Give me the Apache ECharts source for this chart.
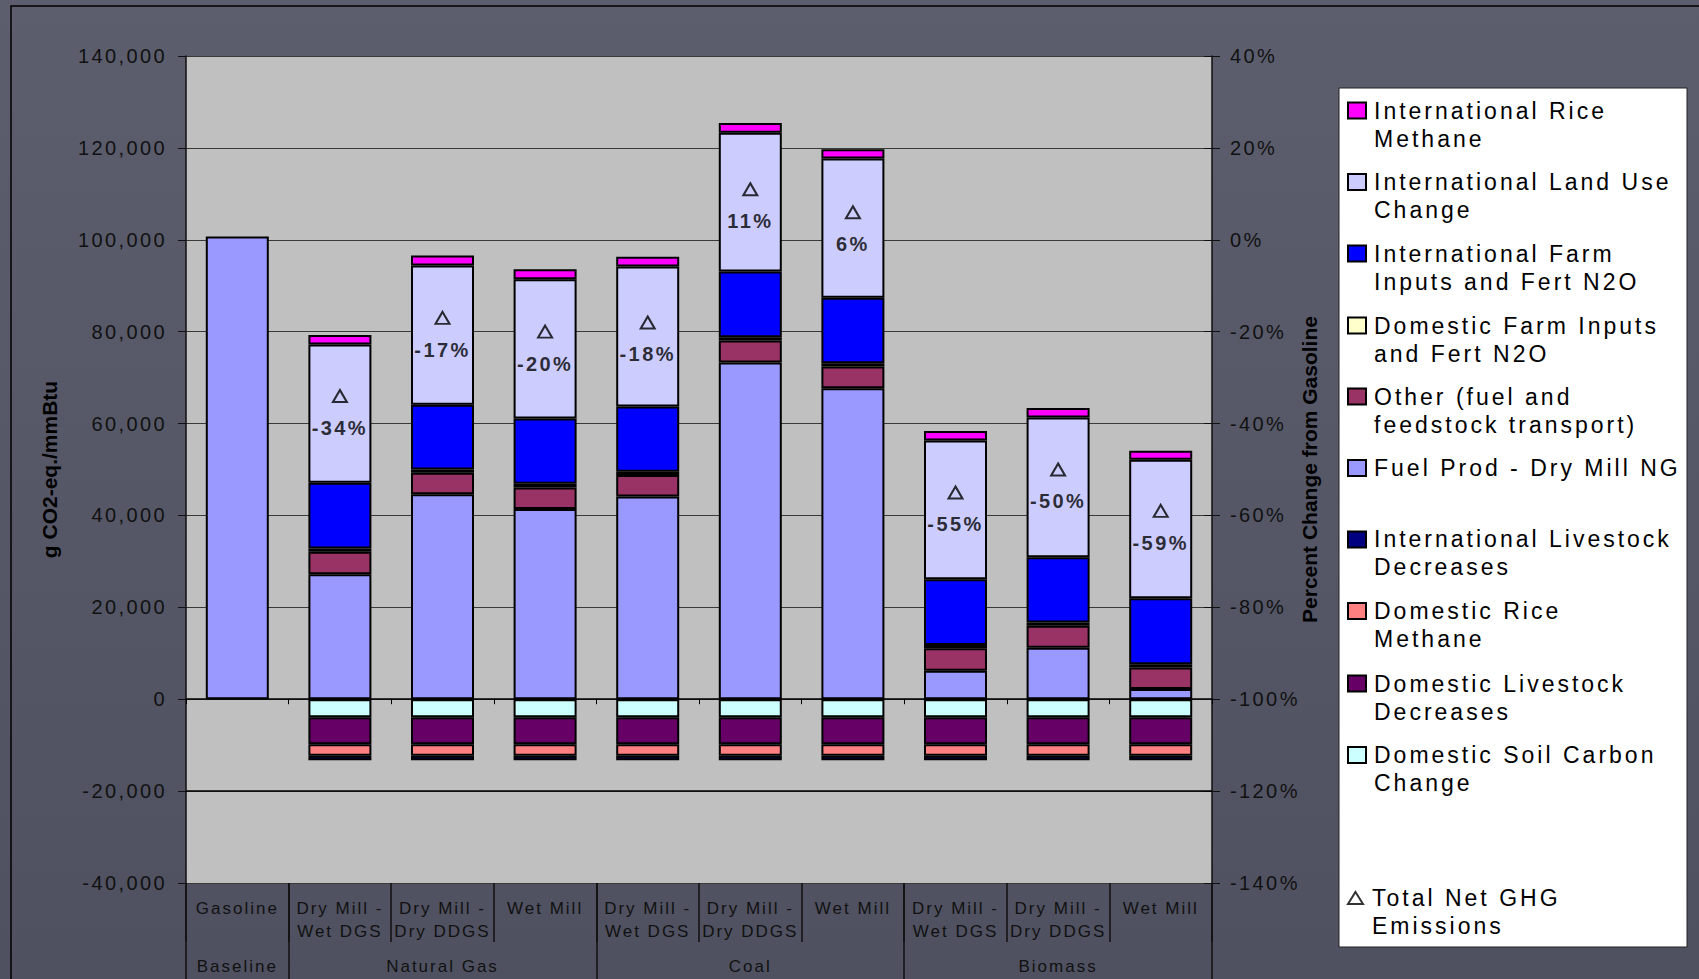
<!DOCTYPE html>
<html><head><meta charset="utf-8">
<script src="https://cdn.jsdelivr.net/npm/echarts@6/dist/echarts.min.js"></script>
<style>
html,body{margin:0;padding:0;background:#565867;}
#chart{width:1699px;height:979px;}
#chart text[style*="23px"]{letter-spacing:3px}
#chart text[style*="20px"]{letter-spacing:2.4px}
#chart text[style*="17px"]{letter-spacing:2px}
</style></head><body><div id="chart"></div>
<script>
// ---- data ----
const categories = ['Gasoline','Dry Mill -\nWet DGS','Dry Mill -\nDry DDGS','Wet Mill','Dry Mill -\nWet DGS','Dry Mill -\nDry DDGS','Wet Mill','Dry Mill -\nWet DGS','Dry Mill -\nDry DDGS','Wet Mill'];
const groupLabels = ['Baseline','','Natural Gas','','','Coal','','','Biomass',''];
const groupStarts = [0,1,4,7];

const fuelProd       = [100700, 27200, 44600, 41400, 44100, 73300, 67700,  6200, 11200,  2200];
const otherTransport = [null,    4900,  4700,  4700,  4700,  4800,  4700,  4900,  4800,  4700];
const domFarmInputs  = [null,     700,   700,   800,   700,   700,   700,   700,   700,   700];
const intlFarmInputs = [null,   14300, 14100, 14200, 14200, 14300, 14300, 14300, 14200, 14400];
const intlLandUse    = [null,   30100, 30300, 30300, 30500, 30200, 30300, 30200, 30400, 30100];
const intlRice       = [null,    2100,  2200,  2200,  2100,  2100,  2000,  2100,  2100,  2000];
const domSoil        = [null,   -3900, -3900, -3900, -3900, -3900, -3900, -3900, -3900, -3900];
const domLivestock   = [null,   -5900, -5900, -5900, -5900, -5900, -5900, -5900, -5900, -5900];
const domRice        = [null,   -2500, -2500, -2500, -2500, -2500, -2500, -2500, -2500, -2500];
const intlLivestock  = [null,   -1000, -1000, -1000, -1000, -1000, -1000, -1000, -1000, -1000];
const netChangePct   = [null, -34, -17, -20, -18, 11, 6, -55, -50, -59];

const leftMin = -40000, leftMax = 140000, leftStep = 20000;
const rightMin = -140, rightMax = 40, rightStep = 20;

const legendNames = ['International Rice Methane','International Land Use Change','International Farm Inputs and Fert N2O','Domestic Farm Inputs and Fert N2O','Other (fuel and feedstock transport)','Fuel Prod - Dry Mill NG','International Livestock Decreases','Domestic Rice Methane','Domestic Livestock Decreases','Domestic Soil Carbon Change','Total Net GHG Emissions'];
const legendLabels = ['International Rice\nMethane','International Land Use\nChange','International Farm\nInputs and Fert N2O','Domestic Farm Inputs\nand Fert N2O','Other (fuel and\nfeedstock transport)','Fuel Prod - Dry Mill NG','International Livestock\nDecreases','Domestic Rice\nMethane','Domestic Livestock\nDecreases','Domestic Soil Carbon\nChange','Total Net GHG\nEmissions'];
const legendRowY = [110.5, 182, 253.5, 325.5, 396.6, 468, 539.4, 611, 683.5, 755, 898];

// ---- chart ----
const FF = 'Liberation Sans, Arial, sans-serif';
const stackDefs = [
  {name:'Fuel Prod - Dry Mill NG', data:fuelProd, color:'#9999FF'},
  {name:'Other (fuel and feedstock transport)', data:otherTransport, color:'#993366'},
  {name:'Domestic Farm Inputs and Fert N2O', data:domFarmInputs, color:'#FFFFCC'},
  {name:'International Farm Inputs and Fert N2O', data:intlFarmInputs, color:'#0000FF'},
  {name:'International Land Use Change', data:intlLandUse, color:'#CCCCFF'},
  {name:'International Rice Methane', data:intlRice, color:'#FF00FF'},
  {name:'Domestic Soil Carbon Change', data:domSoil, color:'#CCFFFF'},
  {name:'Domestic Livestock Decreases', data:domLivestock, color:'#660066'},
  {name:'Domestic Rice Methane', data:domRice, color:'#FF8080'},
  {name:'International Livestock Decreases', data:intlLivestock, color:'#000080'}
];

const series = stackDefs.map((d, i) => {
  const s = {
    name: d.name, type: 'bar', stack: 'total', barWidth: 63,
    xAxisIndex: 0, yAxisIndex: 0, data: d.data,
    itemStyle: {color: d.color, borderColor: '#000', borderWidth: 2},
    emphasis: {disabled: true}
  };
  if (i === 0) {
    s.markLine = {silent: true, symbol: 'none', label: {show: false},
      lineStyle: {color: '#000', width: 1.5, type: 'solid'},
      data: [{yAxis: -20000}]};
  }
  return s;
});
series.push({
  name: 'Total Net GHG Emissions', type: 'scatter', xAxisIndex: 0, yAxisIndex: 1,
  data: netChangePct, symbol: 'triangle', symbolSize: [14, 12], z: 10,
  itemStyle: {color: 'rgba(0,0,0,0)', borderColor: '#000', borderWidth: 2},
  label: {show: true, position: 'bottom', distance: 15, formatter: p => p.value + '%',
    fontSize: 20, fontWeight: 'bold', color: '#000', fontFamily: FF},
  emphasis: {disabled: true}
});

const legends = legendNames.map((n, i) => {
  const two = legendLabels[i].indexOf('\n') >= 0;
  const tri = n === 'Total Net GHG Emissions';
  const lg = {
    orient: 'vertical', left: 1347, top: legendRowY[i] - (two ? 42 : 14), padding: 0,
    data: [n], selectedMode: false,
    itemWidth: tri ? 15 : 18, itemHeight: tri ? 12 : 16,
    formatter: () => (two ? '\n' : '') + legendLabels[i],
    textStyle: {fontSize: 23, lineHeight: 28, color: '#000', fontFamily: FF,
      padding: [0, 0, 0, tri ? 4 : 3]}
  };
  if (!tri) lg.icon = 'rect';
  return lg;
});

const axisTxt = {color: '#111', fontFamily: FF};
const option = {
  animation: false,
  backgroundColor: {type: 'linear', x: 0, y: 0, x2: 0, y2: 1,
    colorStops: [{offset: 0, color: '#5c5e6d'}, {offset: 1, color: '#4f5160'}]},
  textStyle: {fontFamily: FF},
  grid: {left: 186, right: 487, top: 56, bottom: 96, show: true,
    backgroundColor: '#c0c0c0', borderWidth: 0, containLabel: false, outerBoundsMode: 'none'},
  graphic: [
    {type: 'rect', z: -5, silent: true, shape: {x: 11, y: 6, width: 2000, height: 2000},
      style: {fill: 'none', stroke: '#000', lineWidth: 1.5}},
    {type: 'rect', z: 0, silent: true, shape: {x: 1339, y: 88, width: 348, height: 859},
      style: {fill: '#fff', stroke: '#222', lineWidth: 1}}
  ],
  legend: legends,
  xAxis: [
    {type: 'category', data: categories, position: 'bottom',
      axisLine: {show: true, onZero: true, lineStyle: {color: '#000', width: 1.5}},
      axisTick: {show: true, length: 5, lineStyle: {color: '#000', width: 1}},
      axisLabel: {show: false}, splitLine: {show: false}},
    {type: 'category', data: categories, position: 'bottom',
      axisLine: {show: false, onZero: false},
      axisTick: {show: true, interval: 0, length: 59, lineStyle: {color: '#111', width: 1.5}},
      axisLabel: Object.assign({interval: 0, margin: 13.5, fontSize: 17, lineHeight: 23}, axisTxt),
      splitLine: {show: false}},
    {type: 'category', data: groupLabels, position: 'bottom',
      axisLine: {show: false, onZero: false},
      axisTick: {show: true, interval: (i) => groupStarts.indexOf(i) >= 0, length: 100,
        lineStyle: {color: '#111', width: 1.5}},
      axisLabel: Object.assign({interval: 0, margin: 71.5, fontSize: 17, lineHeight: 23}, axisTxt),
      splitLine: {show: false}}
  ],
  yAxis: [
    {type: 'value', min: leftMin, max: leftMax, interval: leftStep, position: 'left',
      axisLine: {show: true, lineStyle: {color: '#111', width: 1.5}},
      axisTick: {show: true, length: 8, lineStyle: {color: '#111'}},
      axisLabel: Object.assign({margin: 19, fontSize: 20, formatter: v => v.toLocaleString('en-US')}, axisTxt),
      splitLine: {show: true, lineStyle: {color: '#3a3a3a', width: 1}},
      name: 'g CO2-eq./mmBtu', nameLocation: 'middle', nameGap: 126,
      nameTextStyle: {fontSize: 21, fontWeight: 'bold', color: '#000', fontFamily: FF}},
    {type: 'value', min: rightMin, max: rightMax, interval: rightStep, position: 'right',
      axisLine: {show: true, lineStyle: {color: '#111', width: 1.5}},
      axisTick: {show: true, length: 8, lineStyle: {color: '#111'}},
      axisLabel: Object.assign({margin: 18, fontSize: 20, formatter: '{value}%'}, axisTxt),
      splitLine: {show: false},
      name: 'Percent Change from Gasoline', nameLocation: 'middle', nameGap: 86,
      nameTextStyle: {fontSize: 21, fontWeight: 'bold', color: '#000', fontFamily: FF}},
    {type: 'value', min: rightMin, max: rightMax, interval: rightStep, position: 'right',
      axisLine: {show: false}, axisLabel: {show: false}, splitLine: {show: false},
      axisTick: {show: true, inside: true, length: 8, lineStyle: {color: '#111'}}}
  ],
  series: series
};
const chart = echarts.init(document.getElementById('chart'), null, {renderer: 'svg'});
chart.setOption(option);
</script></body></html>
